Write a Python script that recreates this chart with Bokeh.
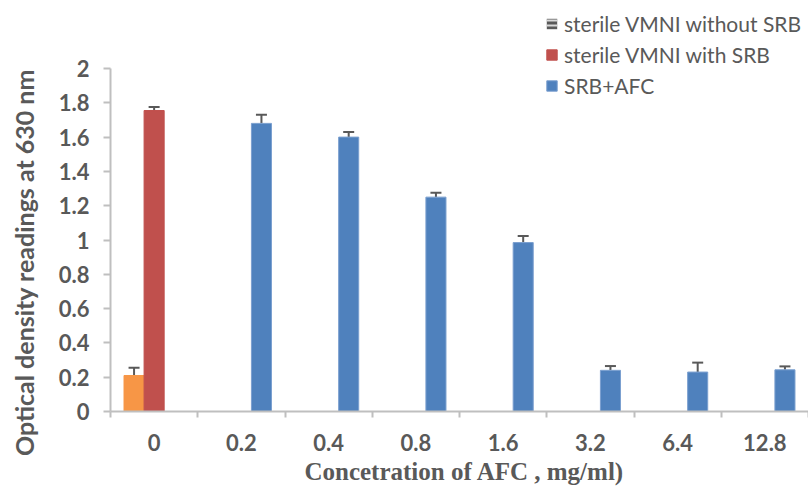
import math
from bokeh.plotting import figure
from bokeh.models import (ColumnDataSource, Whisker, TeeHead, FixedTicker, Legend,
                          LegendItem, Label, Range1d)
from bokeh.embed import file_html
from bokeh.resources import INLINE

categories = ["0", "0.2", "0.4", "0.8", "1.6", "3.2", "6.4", "12.8"]

no_srb_cat = ["0"]
no_srb_val = [0.21]
no_srb_err = [0.045]

srb_cat = ["0"]
srb_val = [1.755]
srb_err = [0.02]

afc_cat = ["0.2", "0.4", "0.8", "1.6", "3.2", "6.4", "12.8"]
afc_val = [1.68, 1.60, 1.25, 0.985, 0.24, 0.23, 0.243]
afc_err = [0.05, 0.03, 0.025, 0.038, 0.025, 0.055, 0.02]

y_ticks = [0, 0.2, 0.4, 0.6, 0.8, 1.0, 1.2, 1.4, 1.6, 1.8, 2.0]
y_tick_labels = ["0", "0.2", "0.4", "0.6", "0.8", "1", "1.2", "1.4", "1.6", "1.8", "2"]
y_max = 2.0

series_names = ["sterile VMNI without SRB", "sterile VMNI with SRB", "SRB+AFC"]
x_title = "Concetration of AFC , mg/ml)"
y_title = "Optical density readings at 630 nm"

GRAY = "#595959"
AXIS = "#BFBFBF"
BW = 0.23

# page geometry (pixels)
W, H = 808, 486
AX_LEFT, AX_BOTTOM, AX_TOP = 110, 411, 68
ncat = len(categories)
px_per_cat = (W - AX_LEFT) / ncat
px_per_unit = (AX_BOTTOM - AX_TOP) / y_max

x_range = Range1d(-AX_LEFT / px_per_cat, ncat)
y_range = Range1d(-(H - AX_BOTTOM) / px_per_unit, y_max + AX_TOP / px_per_unit)

p = figure(width=W, height=H, output_backend="svg", toolbar_location=None,
           x_range=x_range, y_range=y_range, min_border=0)
p.outline_line_color = None
p.grid.visible = False
p.background_fill_color = "white"
p.border_fill_color = "white"


def make_source(cats, vals, errs, offset):
    xs = [categories.index(c) + 0.5 + offset for c in cats]
    return ColumnDataSource(dict(x=xs, top=vals,
                                 upper=[v + e for v, e in zip(vals, errs)]))


s1 = make_source(no_srb_cat, no_srb_val, no_srb_err, -BW)
s2 = make_source(srb_cat, srb_val, srb_err, 0)
s3 = make_source(afc_cat, afc_val, afc_err, BW)

p.vbar(x="x", top="top", width=BW, source=s1, fill_color="#F79646", line_color="#F79646")
r2 = p.vbar(x="x", top="top", width=BW, source=s2, fill_color="#C0504D", line_color="#C0504D")
r3 = p.vbar(x="x", top="top", width=BW, source=s3, fill_color="#4F81BD", line_color="#7A9FCF")

# legend-only renderer (zero width) for the first series' patterned legend key
dummy = p.vbar(x="x", top="top", width=0, source=s1, fill_color="#595959", line_color=None,
               hatch_pattern="horizontal_line", hatch_color="#D9D9D9",
               hatch_scale=5, hatch_weight=2)

for s in (s1, s2, s3):
    w = Whisker(source=s, base="x", lower="top", upper="upper", dimension="height",
                line_color=GRAY, line_width=2,
                upper_head=TeeHead(size=11, line_color=GRAY, line_width=2),
                lower_head=None)
    p.add_layout(w)

# x axis (fixed at y = 0)
xa = p.xaxis[0]
xa.fixed_location = 0
xa.bounds = (0, ncat)
xa.ticker = FixedTicker(ticks=[i + 0.5 for i in range(ncat)],
                        minor_ticks=list(range(ncat + 1)))
xa.major_label_overrides = {i + 0.5: c for i, c in enumerate(categories)}
xa.major_tick_out = 0
xa.major_tick_in = 0
xa.minor_tick_out = 6
xa.minor_tick_in = 0
xa.minor_tick_line_color = AXIS
xa.minor_tick_line_width = 2
xa.axis_line_color = AXIS
xa.axis_line_width = 2
xa.major_label_text_font = "Lato"
xa.major_label_text_font_style = "bold"
xa.major_label_text_font_size = "22px"
xa.major_label_text_color = GRAY
xa.major_label_standoff = 16

# y axis (fixed at x = 0)
ya = p.yaxis[0]
ya.fixed_location = 0
ya.bounds = (0, y_max)
ya.ticker = FixedTicker(ticks=y_ticks, minor_ticks=[])
ya.major_label_overrides = {t: l for t, l in zip(y_ticks, y_tick_labels)}
ya.major_tick_out = 7
ya.major_tick_in = 0
ya.major_tick_line_color = AXIS
ya.major_tick_line_width = 2
ya.minor_tick_out = 0
ya.axis_line_color = AXIS
ya.axis_line_width = 2
ya.major_label_text_font = "Lato"
ya.major_label_text_font_style = "bold"
ya.major_label_text_font_size = "22px"
ya.major_label_text_color = GRAY
ya.major_label_standoff = 14

# axis titles (frame covers the whole canvas, so screen units = canvas pixels from bottom-left)
p.add_layout(Label(x=23, y=H - 262, x_units="screen", y_units="screen", text=y_title,
                   angle=math.pi / 2, text_align="center", text_baseline="middle",
                   text_font="Lato", text_font_style="bold", text_font_size="25px",
                   text_color=GRAY))
p.add_layout(Label(x=464, y=H - 471, x_units="screen", y_units="screen", text=x_title,
                   text_align="center", text_baseline="middle",
                   text_font="Liberation Serif", text_font_style="bold",
                   text_font_size="25px", text_color=GRAY))

legend = Legend(items=[LegendItem(label=series_names[0], renderers=[dummy]),
                       LegendItem(label=series_names[1], renderers=[r2]),
                       LegendItem(label=series_names[2], renderers=[r3])],
                location=(545, H - 97.5), orientation="vertical",
                glyph_width=13, glyph_height=13, label_height=25,
                spacing=6, padding=0, margin=0, label_standoff=6,
                label_text_font="Lato", label_text_font_size="21px",
                label_text_color=GRAY, border_line_color=None,
                background_fill_alpha=0)
p.add_layout(legend, "center")

open("out.html", "w").write(file_html(p, INLINE))
